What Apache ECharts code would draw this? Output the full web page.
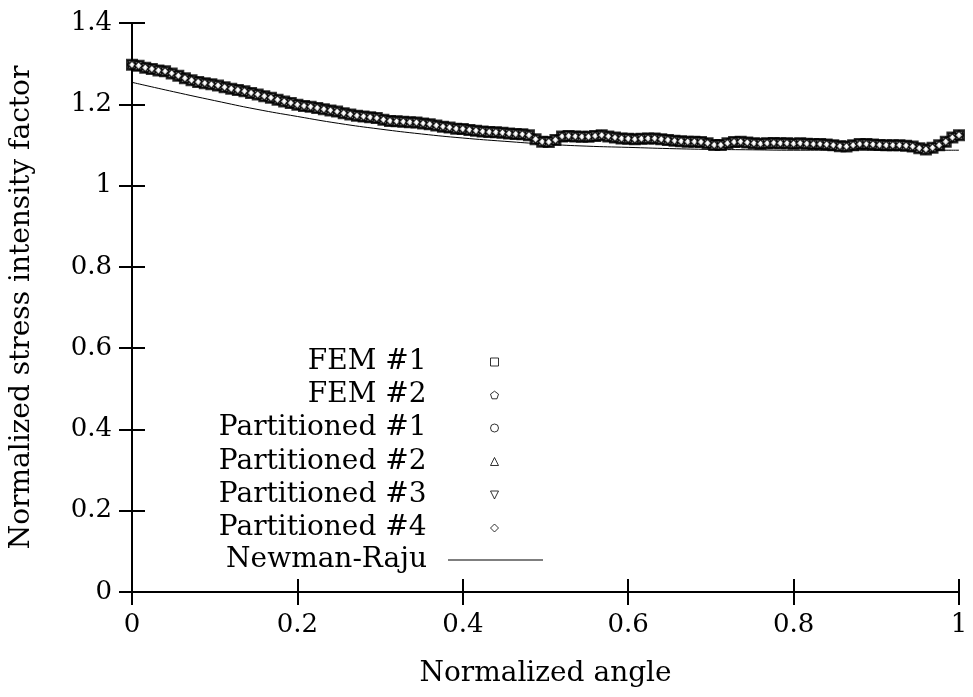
<!DOCTYPE html>
<html>
<head>
<meta charset="utf-8">
<script src="https://cdn.jsdelivr.net/npm/echarts@6/dist/echarts.min.js"></script>
<style>html,body{margin:0;padding:0;background:#fff}#c{width:973px;height:697px}</style>
</head>
<body>
<div id="c"></div>
<script>
// FEM values sampled every 0.008 of normalized angle (0..1)
var femValues = [
1.297,1.295,1.290,1.287,1.283,1.281,1.276,1.270,1.264,1.259,
1.255,1.252,1.249,1.246,1.242,1.238,1.235,1.232,1.228,1.224,
1.220,1.216,1.211,1.207,1.203,1.199,1.196,1.194,1.191,1.188,
1.185,1.182,1.178,1.175,1.172,1.170,1.168,1.166,1.162,1.159,
1.158,1.157,1.156,1.155,1.153,1.151,1.148,1.145,1.143,1.140,
1.139,1.137,1.135,1.133,1.132,1.131,1.130,1.128,1.127,1.126,
1.124,1.114,1.108,1.107,1.112,1.121,1.122,1.121,1.120,1.120,
1.122,1.124,1.121,1.118,1.116,1.115,1.114,1.115,1.116,1.116,
1.114,1.112,1.110,1.109,1.108,1.108,1.107,1.104,1.100,1.100,
1.104,1.107,1.108,1.106,1.104,1.103,1.104,1.105,1.104,1.104,
1.103,1.104,1.103,1.102,1.102,1.101,1.099,1.097,1.096,1.099,
1.102,1.102,1.101,1.100,1.099,1.099,1.099,1.098,1.096,1.092,
1.089,1.093,1.099,1.108,1.118,1.124
];
var femStep = 0.008;
var nrAngles = [0,0.05,0.1,0.15,0.2,0.25,0.3,0.35,0.4,0.45,0.5,0.55,0.6,0.65,0.7,0.75,0.8,0.85,0.9,0.95,1.0];
var nrValues = [1.254,1.231,1.209,1.188,1.170,1.153,1.139,1.127,1.117,1.109,1.102,1.097,1.094,1.091,1.089,1.088,1.087,1.087,1.087,1.087,1.087];
var seriesNames = ['FEM #1','FEM #2','Partitioned #1','Partitioned #2','Partitioned #3','Partitioned #4','Newman-Raju'];
var xTicks = [0,0.2,0.4,0.6,0.8,1];
var yTicks = [0,0.2,0.4,0.6,0.8,1,1.2,1.4];

var FONT = 'DejaVu Serif';
var femData = femValues.map(function(v,i){return [+(i*femStep).toFixed(4), v];});
var nrData = nrAngles.map(function(a,i){return [a, nrValues[i]];});

var symbols = ['rect',
  'path://M0,-1 L0.951,-0.309 L0.588,0.809 L-0.588,0.809 L-0.951,-0.309 Z',
  'circle','triangle','path://M-1,-1 L1,-1 L0,1 Z','diamond'];
var sizes = [9,8,8,8,8,8];

var series = [];
for (var k=0;k<6;k++){
  series.push({
    name: seriesNames[k], type:'scatter', data: femData,
    symbol: symbols[k], symbolSize: sizes[k],
    itemStyle:{color:'#fff', borderColor:'#000', borderWidth: k===0?3:1.5},
    z: 3 + k, silent:true
  });
}
series.push({
  name: seriesNames[6], type:'line', data: nrData, smooth:true, symbol:'none', showSymbol:false,
  lineStyle:{color:'#000', width:1}, itemStyle:{color:'#000'}, z:2, silent:true
});

var legendCenters = [362,395,428,461.5,495,528,560];
var legends = seriesNames.map(function(n,i){
  var isLine = (i===6);
  return {
    data:[n], orient:'vertical', align:'right',
    right: isLine ? 430 : 474, top: legendCenters[i]-16,
    padding:0, itemWidth: isLine ? 95 : 8, itemHeight: isLine ? 1 : 8, selectedMode:false,
    icon: isLine ? 'rect' : undefined,
    itemStyle: isLine ? {color:'#000', borderWidth:0} : {color:'#fff', borderColor:'#000', borderWidth:1},
    textStyle:{fontFamily:FONT, fontSize:28, color:'#000', lineHeight:32,
      padding:[0, isLine ? 16 : 59, 0, 0]}
  };
});

var axisLine = {show:true, lineStyle:{color:'#000', width:2}};
var tick = {show:true, inside:true, length:13, lineStyle:{color:'#000', width:2}};

var option = {
  animation:false,
  backgroundColor:'#fff',
  grid:{left:131, right:14, top:23, bottom:105, show:false},
  legend: legends,
  xAxis:[{
    type:'value', min:0, max:1, interval:0.2,
    name:'Normalized angle', nameLocation:'middle', nameGap:68,
    nameTextStyle:{fontFamily:FONT, fontSize:28, color:'#000'},
    axisLine:axisLine, axisTick:tick, splitLine:{show:false},
    axisLabel:{fontFamily:FONT, fontSize:26, color:'#000', margin:20,
      formatter:function(v){return String(+v.toFixed(1));}}
  },{
    type:'value', min:0, max:1, interval:0.2, position:'top',
    axisLine:axisLine, axisTick:tick, axisLabel:{show:false}, splitLine:{show:false}
  }],
  yAxis:[{
    type:'value', min:0, max:1.4, interval:0.2,
    name:'Normalized stress intensity factor', nameLocation:'middle', nameGap:96,
    nameTextStyle:{fontFamily:FONT, fontSize:28, color:'#000'},
    axisLine:axisLine, axisTick:tick, splitLine:{show:false},
    axisLabel:{fontFamily:FONT, fontSize:26, color:'#000', margin:20,
      formatter:function(v){return String(+v.toFixed(1));}}
  },{
    type:'value', min:0, max:1.4, interval:0.2, position:'right',
    axisLine:axisLine, axisTick:tick, axisLabel:{show:false}, splitLine:{show:false}
  }],
  series: series
};
var chart = echarts.init(document.getElementById('c'), null, {renderer:'canvas'});
chart.setOption(option);
</script>
</body>
</html>
